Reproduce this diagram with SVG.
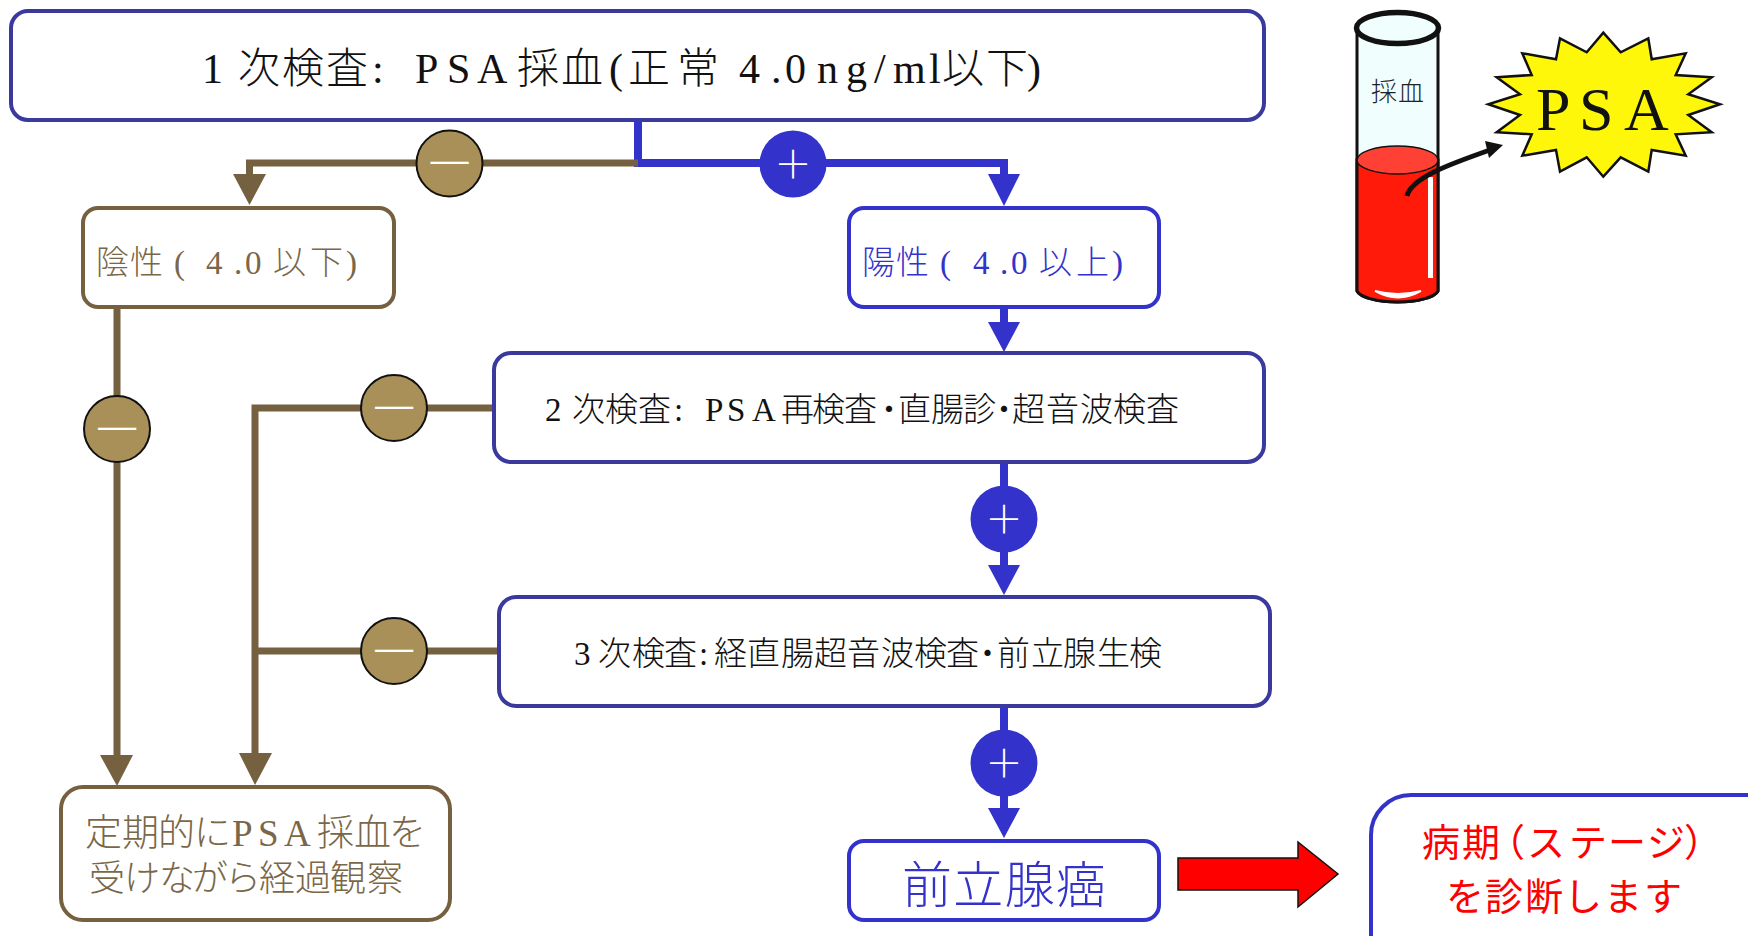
<svg xmlns="http://www.w3.org/2000/svg" width="1748" height="936" viewBox="0 0 1748 936">
<style>
text{font-family:"Liberation Serif","Noto Sans CJK JP",serif;font-weight:300}
.box{fill:#fff;stroke-width:4}
.navy{stroke:#3a3a9e}
.blue{stroke:#3333cc}
.brown{stroke:#756040}
.tb{fill:#7a6748}
.tu{fill:#3333cc}
.k{fill:#111}
.r{fill:#ff0000;font-family:"Noto Sans CJK JP",sans-serif;font-weight:400}
.w{fill:#fff;font-family:"Noto Sans CJK JP",sans-serif;font-weight:300;text-anchor:middle}
.lb{fill:none;stroke:#756040;stroke-width:7}
.lu{fill:none;stroke:#3333cc;stroke-width:8}
.hb{fill:#756040}
.hu{fill:#3333cc}
.cb{fill:#a89058;stroke:#111;stroke-width:2}
.cu{fill:#3333cc}
</style>
<g id="connectors">
  <path class="lu" d="M638 120V163H1004V176"/>
  <path class="lb" d="M638 163H249.500V176"/>
  <path class="lu" d="M1004 308V325"/>
  <path class="lu" d="M1004 463V575"/>
  <path class="lu" d="M1004 707V815"/>
  <path class="lb" d="M117 308V757"/>
  <path class="lb" d="M494 408H255V755"/>
  <path class="lb" d="M498 651H255"/>
  <polygon class="hb" points="233,174 266,174 249.500,205"/>
  <polygon class="hu" points="988,174 1020,174 1004,206"/>
  <polygon class="hu" points="988,322 1020,322 1004,352"/>
  <polygon class="hu" points="988,565 1020,565 1004,595"/>
  <polygon class="hu" points="988,808 1020,808 1004,838"/>
  <polygon class="hb" points="100,755 133,755 117,786"/>
  <polygon class="hb" points="239,753 272,753 255,785"/>
</g>
<g id="sign-neg-1"><circle class="cb" cx="449.500" cy="163.500" r="33"/><text class="w" x="449.500" y="179" font-size="42">一</text></g>
<g id="sign-pos-1"><circle class="cu" cx="793" cy="164" r="33.500"/><text class="w" x="793" y="178" font-size="38">＋</text></g>
<g id="sign-neg-2"><circle class="cb" cx="117" cy="429" r="33"/><text class="w" x="117" y="445" font-size="42">一</text></g>
<g id="sign-neg-3"><circle class="cb" cx="394" cy="408" r="33"/><text class="w" x="394" y="424" font-size="42">一</text></g>
<g id="sign-neg-4"><circle class="cb" cx="394" cy="651" r="33"/><text class="w" x="394" y="667" font-size="42">一</text></g>
<g id="sign-pos-2"><circle class="cu" cx="1004" cy="519" r="33.500"/><text class="w" x="1004" y="533" font-size="38">＋</text></g>
<g id="sign-pos-3"><circle class="cu" cx="1004" cy="763" r="33.500"/><text class="w" x="1004" y="777" font-size="38">＋</text></g>

<g id="first-test"><rect class="box navy" x="11" y="11" width="1253" height="109" rx="17"/>
  <text class="k" y="83" font-size="42" x="202 225 238 282 326 372 390 415 447 477 517 561 609 628 677 722 739 771 785 817 846 874 893 929 942 986 1027">1 次検査: PSA採血(正常 4.0ng/ml以下)</text></g>
<g id="negative"><rect class="box brown" x="83" y="208" width="311" height="99" rx="15"/>
  <text class="tb" y="274" font-size="33" x="96 130 174 192 206 234 245 262 273 310 346">陰性( 4.0 以下)</text></g>
<g id="positive"><rect class="box blue" x="849" y="208" width="310" height="99" rx="15"/>
  <text class="tu" y="274" font-size="33" x="862 896 940 958 973 1000 1011 1028 1039 1076 1112">陽性( 4.0 以上)</text></g>
<g id="second-test"><rect class="box navy" x="494" y="353" width="770" height="109" rx="17"/>
  <text class="k" y="421" font-size="33" x="545 565 572 605 638 674 695 705 727 752 781 812 844 872.500 898 931 963 987.500 1012 1046 1080 1113 1146">2 次検査: PSA再検査・直腸診・超音波検査</text></g>
<g id="third-test"><rect class="box navy" x="499" y="597" width="771" height="109" rx="17"/>
  <text class="k" y="665" font-size="33" x="574 590 598 632 664 699 714 747 781 814 847 881 914 946 971 997 1031 1063 1097 1129">3 次検査:経直腸超音波検査・前立腺生検</text></g>
<g id="follow-up"><rect class="box brown" x="61" y="787" width="389" height="133" rx="22"/>
  <text class="tb" y="846" font-size="37" x="85 122 158 194 232 258 284 317 354 389">定期的にPSA採血を</text>
  <text class="tb" y="891" font-size="36" x="89 124 159 192 225 259 295 330 367">受けながら経過観察</text></g>
<g id="cancer"><rect class="box blue" x="849" y="841" width="310" height="79" rx="15"/>
  <text class="tu" x="902" y="903" font-size="50" textLength="204" lengthAdjust="spacing">前立腺癌</text></g>
<g id="stage"><rect class="box blue" x="1371" y="795" width="420" height="190" rx="40"/>
  <text class="r" y="856" font-size="38" x="1422 1462 1487 1527 1569 1608 1647 1684">病期（ステージ）</text>
  <text class="r" y="910" font-size="38" x="1446 1485 1525 1564 1604 1644">を診断します</text></g>
<g id="stage-arrow"><polygon points="1178,858 1298,858 1298,842 1338,874 1298,907 1298,890 1178,890" fill="#ff0000" stroke="#111" stroke-width="1.500"/></g>

<g id="test-tube">
  <path d="M1357 28V291A41 13 0 0 0 1438 291V28Z" fill="#f0fffd" stroke="#111" stroke-width="3"/>
  <path d="M1357 160V291A41 13 0 0 0 1438 291V160Z" fill="#ff1a0a" stroke="#111" stroke-width="3"/>
  <ellipse cx="1397.500" cy="160" rx="40.500" ry="14" fill="#ff4034" stroke="#111" stroke-width="1.500"/>
  <rect x="1428" y="177" width="5" height="101" fill="#fff"/>
  <path d="M1375 291Q1398 304 1421 291Q1398 297 1375 291Z" fill="#fff" stroke="#fff" stroke-width="2"/>
  <ellipse cx="1397.500" cy="28" rx="41" ry="15.500" fill="#f0fffd" stroke="#111" stroke-width="5.500"/>
  <text x="1371" y="101" font-size="26" textLength="53" lengthAdjust="spacing" fill="#222">採血</text>
</g>
<g id="psa-burst">
  <polygon points="1603.300,32.700 1620.700,52.300 1648.300,38.300 1651.700,59.300 1685.700,53.300 1675.700,75 1711.700,77.300 1688.300,94.300 1720,104.300 1688.300,115 1711.700,132.300 1675.700,134.300 1685.700,155.700 1651.700,150 1648.300,171.700 1620.700,157.300 1603.300,176.700 1586.700,157.300 1560,171.700 1556,150 1522.300,155.700 1531.700,134.300 1496.700,132.300 1520,115 1488.300,104.300 1520,94.300 1496.700,77.300 1531.700,75 1522.300,53.300 1556,59.300 1560,38.300 1586.700,52.300" fill="#fff70a" stroke="#111" stroke-width="2.500"/>
  <text class="k" x="1536 1579 1624" y="130" font-size="62">PSA</text>
</g>
<g id="blood-arrow">
  <path d="M1407 196C1411 178 1450 164 1490 150" fill="none" stroke="#111" stroke-width="5"/>
  <polygon points="1485,141 1503,145 1489,158" fill="#111"/>
</g>
</svg>
